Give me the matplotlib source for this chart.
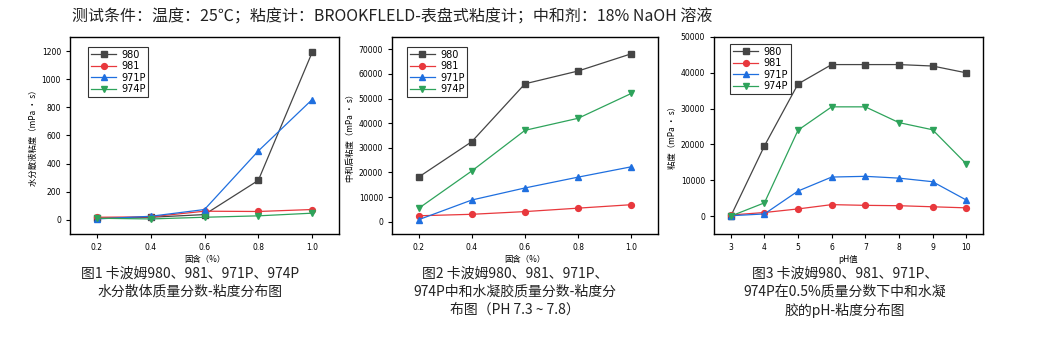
import matplotlib.pyplot as plt

plt.rcParams["font.family"] = ["DejaVu Sans", "Noto Sans CJK SC"]

SERIES = ["980", "981", "971P", "974P"]
COLORS = ["#454545", "#e8383d", "#1f6fdf", "#2ea35b"]
MARKERS = ["s", "o", "^", "v"]

# 图1 固含 vs 水分散液粘度
solid = [0.2, 0.4, 0.6, 0.8, 1.0]
fig1_vals = [
    [12, 19, 38, 281, 1190],
    [19, 22, 62, 60, 74],
    [7, 26, 74, 490, 855],
    [12, 7, 19, 29, 48],
]

# 图2 固含 vs 中和后粘度
fig2_vals = [
    [18100, 32500, 56000, 61200, 68200],
    [2400, 3000, 4100, 5500, 6900],
    [800, 8800, 13700, 18100, 22300],
    [5400, 20600, 37100, 42000, 52100],
]

# 图3 pH vs 粘度
ph = [3, 4, 5, 6, 7, 8, 9, 10]
fig3_vals = [
    [0, 19600, 36900, 42300, 42300, 42300, 41900, 40000],
    [300, 1000, 2000, 3200, 3000, 2900, 2600, 2300],
    [100, 600, 7000, 10900, 11100, 10600, 9600, 4500],
    [0, 3700, 24000, 30500, 30500, 26100, 24100, 14600],
]

W, H = 1041, 363


def make_axes(fig, left, right, top=37, bottom=234):
    return fig.add_axes([left / W, 1 - bottom / H, (right - left) / W, (bottom - top) / H])


def draw(ax, xs, vals, xlim, ylim, xticks, yticks, xlabel, ylabel, leg_xy):
    for name, color, marker, ys in zip(SERIES, COLORS, MARKERS, vals):
        ax.plot(xs, ys, color=color, marker=marker, markersize=4.2, linewidth=0.9, label=name)
    ax.set_xlim(*xlim)
    ax.set_ylim(*ylim)
    ax.set_xticks(xticks)
    ax.set_yticks(yticks)
    ax.tick_params(direction="out", length=3, width=0.8, labelsize=5.5, top=False, right=False)
    for sp in ax.spines.values():
        sp.set_linewidth(1.0)
    ax.set_xlabel(xlabel, fontsize=6, labelpad=2, family=["Noto Sans CJK SC", "DejaVu Sans"])
    ax.set_ylabel(ylabel, fontsize=6, labelpad=3, family=["Noto Sans CJK SC", "DejaVu Sans"])
    leg = ax.legend(loc="upper left", bbox_to_anchor=leg_xy, fontsize=7, frameon=True,
                    fancybox=False, edgecolor="black", handlelength=2.6, labelspacing=0.15,
                    borderpad=0.3, handletextpad=0.5, borderaxespad=0)
    leg.get_frame().set_linewidth(0.8)


fig = plt.figure(figsize=(W / 100, H / 100), dpi=100)

ax1 = make_axes(fig, 70, 339)
draw(ax1, solid, fig1_vals, (0.1, 1.1), (-100, 1300), solid, range(0, 1201, 200),
     "固含（%）", "水分散液粘度（mPa • s）", (0.067, 0.95))
ax1.set_xticklabels(["0.2", "0.4", "0.6", "0.8", "1.0"])

ax2 = make_axes(fig, 392, 658)
draw(ax2, solid, fig2_vals, (0.1, 1.1), (-5000, 75000), solid, range(0, 70001, 10000),
     "固含（%）", "中和后粘度（mPa • s）", (0.056, 0.95))
ax2.set_xticklabels(["0.2", "0.4", "0.6", "0.8", "1.0"])

ax3 = make_axes(fig, 714, 983)
draw(ax3, ph, fig3_vals, (2.5, 10.5), (-5000, 50000), ph, range(0, 50001, 10000),
     "pH值", "粘度（mPa • s）", (0.06, 0.965))

cjk = ["Noto Sans CJK SC", "DejaVu Sans"]
fig.text(72 / W, 1 - 17 / H, "测试条件：温度：25℃；粘度计：BROOKFLELD-表盘式粘度计；中和剂：18% NaOH 溶液",
         fontsize=11.5, va="center", ha="left", family=cjk, color="#222222")

captions = [
    (190, "图1 卡波姆980、981、971P、974P\n水分散体质量分数-粘度分布图"),
    (515, "图2 卡波姆980、981、971P、\n974P中和水凝胶质量分数-粘度分\n布图（PH 7.3 ~ 7.8）"),
    (845, "图3 卡波姆980、981、971P、\n974P在0.5%质量分数下中和水凝\n胶的pH-粘度分布图"),
]
for cx, txt in captions:
    fig.text(cx / W, 1 - 267 / H, txt, fontsize=10, ha="center", va="top", family=cjk,
             linespacing=1.35, color="#222222")

fig.savefig("out.png", dpi=100)
